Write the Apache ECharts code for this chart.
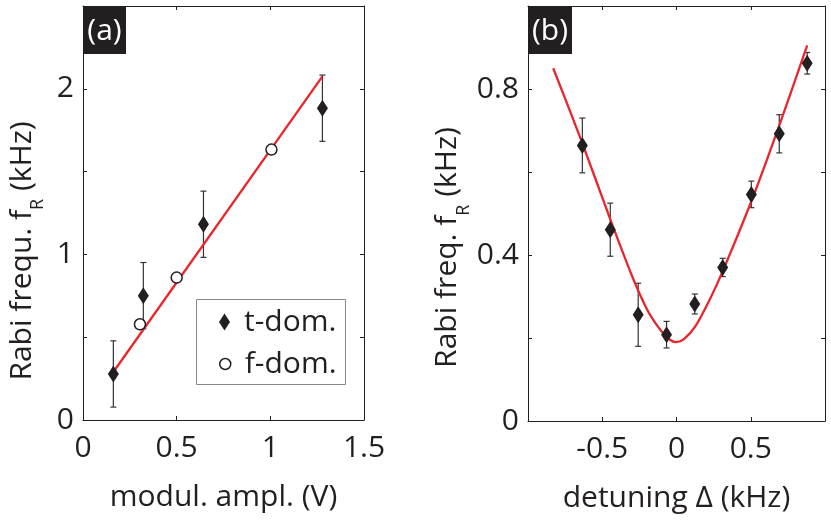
<!DOCTYPE html>
<html>
<head>
<meta charset="utf-8">
<script src="https://cdn.jsdelivr.net/npm/echarts@6/dist/echarts.min.js"></script>
<style>
  html, body { margin: 0; padding: 0; background: #fff; }
  #chart { width: 831px; height: 523px; }
</style>
</head>
<body>
<div id="chart"></div>
<script>
// panel (a): Rabi frequency vs modulation amplitude
const ampT = [0.162, 0.322, 0.643, 1.278];
const rabiT = [0.278, 0.751, 1.182, 1.883];
const errT = [0.2, 0.2, 0.2, 0.2];
const ampF = [0.304, 0.5, 1.006];
const rabiF = [0.578, 0.86, 1.633];
const fitA = [[0.162, 0.29], [1.278, 2.075]];

// panel (b): Rabi frequency vs detuning
const detuning = [-0.634, -0.446, -0.258, -0.067, 0.123, 0.311, 0.504, 0.692, 0.880];
const rabiB = [0.664, 0.461, 0.256, 0.208, 0.282, 0.370, 0.546, 0.692, 0.862];
const errB = [0.066, 0.064, 0.076, 0.032, 0.024, 0.022, 0.032, 0.046, 0.026];
const fitB = [[-0.83, 0.85], [-0.64, 0.675], [-0.45, 0.49], [-0.30, 0.35], [-0.20, 0.27],
  [-0.12, 0.225], [-0.05, 0.197], [0, 0.19], [0.05, 0.197], [0.13, 0.23], [0.22, 0.29],
  [0.31, 0.36], [0.51, 0.535], [0.69, 0.71], [0.88, 0.905]];

// labelled ticks
const labelsAx = [0, 0.5, 1, 1.5];
const labelsAy = [0, 1, 2];
const labelsBx = [-0.5, 0, 0.5];
const labelsBy = [0, 0.4, 0.8];

const FONT = 'Open Sans';
const FS = 30;
const INK = '#231f20';
const RED = '#e8262c';

function pick(list) {
  return v => list.some(l => Math.abs(l - v) < 1e-6) ? String(+v.toFixed(2)) : '';
}

function axisBase(min, max, interval) {
  return {
    type: 'value', min, max, interval,
    splitLine: { show: false },
    axisLine: { show: true, onZero: false, lineStyle: { color: INK, width: 1 } },
    axisTick: { show: true, inside: true, length: 4, lineStyle: { color: INK } }
  };
}

function mainX(grid, min, max, interval, labels, name) {
  return Object.assign(axisBase(min, max, interval), {
    gridIndex: grid, position: 'bottom',
    axisLabel: { formatter: pick(labels), fontFamily: FONT, fontSize: FS, color: INK, margin: 13, showMinLabel: true, showMaxLabel: true },
    name, nameLocation: 'middle', nameGap: 62,
    nameTextStyle: { fontFamily: FONT, fontSize: FS, color: INK }
  });
}

function mainY(grid, min, max, interval, labels, name, shift) {
  return Object.assign(axisBase(min, max, interval), {
    gridIndex: grid, position: 'left',
    axisLabel: { formatter: pick(labels), fontFamily: FONT, fontSize: FS, color: INK, margin: 9, showMinLabel: true, showMaxLabel: true },
    name, nameLocation: 'middle', nameGap: 46,
    nameTextStyle: {
      fontFamily: FONT, fontSize: FS, color: INK, padding: [0, shift, 0, 0],
      rich: { sub: { fontFamily: FONT, fontSize: 18, color: INK, verticalAlign: 'bottom', padding: [0, 0, -10, 0] } }
    }
  });
}

function mirror(grid, min, max, interval, pos) {
  return Object.assign(axisBase(min, max, interval), {
    gridIndex: grid, position: pos, axisLabel: { show: false }
  });
}

function errorSeries(xi, yi, xs, ys, es) {
  return {
    type: 'custom', xAxisIndex: xi, yAxisIndex: yi, z: 2,
    data: xs.map((x, i) => [x, ys[i] - es[i], ys[i] + es[i]]),
    renderItem: (params, api) => {
      const lo = api.coord([api.value(0), api.value(1)]);
      const hi = api.coord([api.value(0), api.value(2)]);
      const c = 3;
      const st = { stroke: '#333', lineWidth: 1.2 };
      return {
        type: 'group',
        children: [
          { type: 'line', shape: { x1: lo[0], y1: lo[1], x2: hi[0], y2: hi[1] }, style: st },
          { type: 'line', shape: { x1: lo[0] - c, y1: lo[1], x2: lo[0] + c, y2: lo[1] }, style: st },
          { type: 'line', shape: { x1: hi[0] - c, y1: hi[1], x2: hi[0] + c, y2: hi[1] }, style: st }
        ]
      };
    }
  };
}

function zip(xs, ys) { return xs.map((x, i) => [x, ys[i]]); }

const chart = echarts.init(document.getElementById('chart'));
chart.setOption({
  animation: false,
  backgroundColor: '#fff',
  grid: [
    { left: 83, top: 6, width: 281, height: 414 },
    { left: 528, top: 6, width: 297, height: 415 }
  ],
  xAxis: [
    mainX(0, 0, 1.5, 0.5, labelsAx, 'modul. ampl. (V)'),
    mirror(0, 0, 1.5, 0.5, 'top'),
    mainX(1, -1, 1, 0.5, labelsBx, 'detuning Δ (kHz)'),
    mirror(1, -1, 1, 0.5, 'top')
  ],
  yAxis: [
    mainY(0, 0, 2.5, 0.5, labelsAy, 'Rabi frequ. f{sub|R} (kHz)', 76),
    mirror(0, 0, 2.5, 0.5, 'right'),
    mainY(1, 0, 1, 0.2, labelsBy, 'Rabi freq. f{sub|R} (kHz)', 68),
    mirror(1, 0, 1, 0.2, 'right')
  ],
  legend: [
    {
      data: [{ name: 't-dom.', icon: 'diamond' }],
      left: 214, top: 302, itemWidth: 11, itemHeight: 17, z: 10,
      textStyle: { fontFamily: FONT, fontSize: 30, color: INK, padding: [0, 0, 0, 9] }
    },
    {
      data: [{ name: 'f-dom.', icon: 'circle' }],
      left: 214, top: 344, itemWidth: 11, itemHeight: 11, z: 10,
      itemStyle: { color: '#fff', borderColor: INK, borderWidth: 1.5 },
      textStyle: { fontFamily: FONT, fontSize: 30, color: INK, padding: [0, 0, 0, 9] }
    }
  ],
  graphic: [
    { type: 'rect', shape: { x: 196.5, y: 299.5, width: 149, height: 85 }, style: { fill: '#fff', stroke: '#888', lineWidth: 1 }, z: 1 },
    { type: 'rect', shape: { x: 83, y: 6, width: 43, height: 48 }, style: { fill: INK }, z: 5 },
    { type: 'text', x: 104.5, y: 31, style: { text: '(a)', fill: '#fff', font: '30px "Open Sans"', textAlign: 'center', textVerticalAlign: 'middle' }, z: 6 },
    { type: 'rect', shape: { x: 528, y: 6, width: 44, height: 48 }, style: { fill: INK }, z: 5 },
    { type: 'text', x: 550, y: 31, style: { text: '(b)', fill: '#fff', font: '30px "Open Sans"', textAlign: 'center', textVerticalAlign: 'middle' }, z: 6 }
  ],
  series: [
    {
      type: 'line', xAxisIndex: 0, yAxisIndex: 0, data: fitA, showSymbol: false, z: 3,
      lineStyle: { color: RED, width: 2.3 }, silent: true
    },
    errorSeries(0, 0, ampT, rabiT, errT),
    {
      name: 't-dom.', type: 'scatter', xAxisIndex: 0, yAxisIndex: 0, z: 4,
      data: zip(ampT, rabiT), symbol: 'diamond', symbolSize: [11, 17],
      itemStyle: { color: INK, opacity: 1 }
    },
    {
      name: 'f-dom.', type: 'scatter', xAxisIndex: 0, yAxisIndex: 0, z: 4,
      data: zip(ampF, rabiF), symbol: 'circle', symbolSize: 11,
      itemStyle: { color: '#fff', borderColor: INK, borderWidth: 1.5, opacity: 1 }
    },
    {
      type: 'line', xAxisIndex: 2, yAxisIndex: 2, data: fitB, showSymbol: false, smooth: 0.3, z: 3,
      lineStyle: { color: RED, width: 2.3 }, silent: true
    },
    errorSeries(2, 2, detuning, rabiB, errB),
    {
      type: 'scatter', xAxisIndex: 2, yAxisIndex: 2, z: 4,
      data: zip(detuning, rabiB), symbol: 'diamond', symbolSize: [11, 17],
      itemStyle: { color: INK, opacity: 1 }
    }
  ]
});
</script>
</body>
</html>
